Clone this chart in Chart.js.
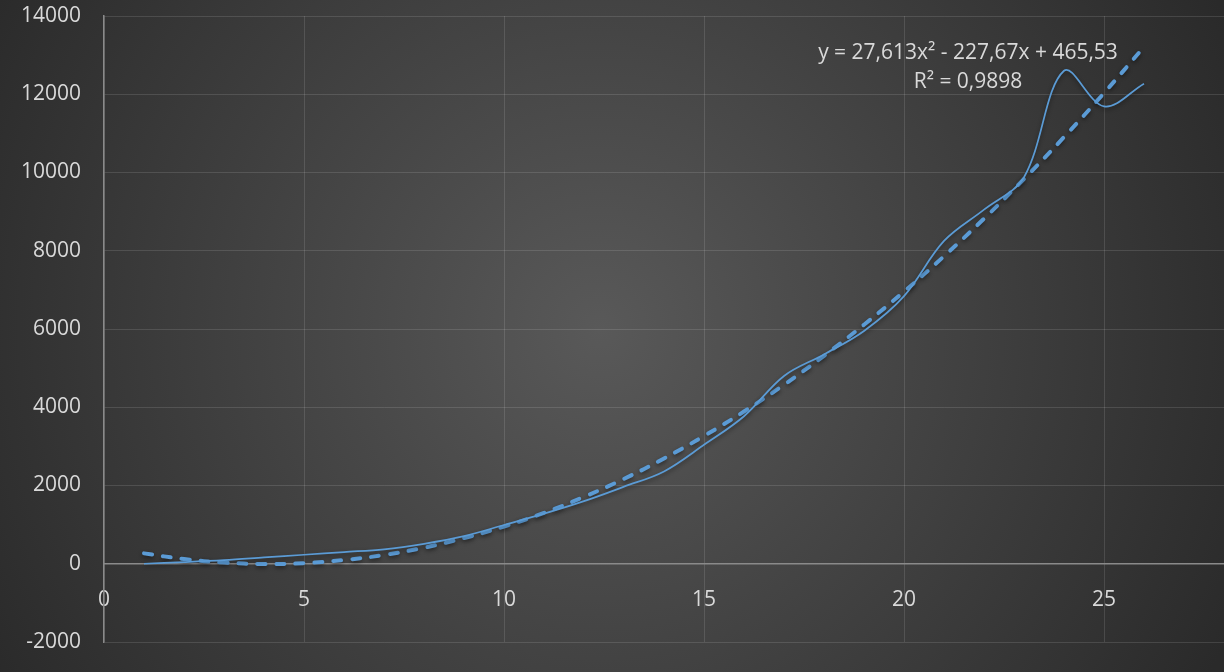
<!DOCTYPE html>
<html>
<head>
<meta charset="utf-8">
<script src="https://cdn.jsdelivr.net/npm/chart.js@4.4.1/dist/chart.umd.min.js"></script>
<style>
    html, body { margin: 0; padding: 0; background: #2a2a2a; }
    #wrap { width: 1224px; height: 672px; }
</style>
</head>
<body>
<div id="wrap"><canvas id="trendChart" width="1224" height="672"></canvas></div>
<script>
// Valores
const xValues = [1, 2, 3, 4, 5, 6, 7, 8, 9, 10, 11, 12, 13, 14, 15, 16, 17, 18, 19, 20, 21, 22, 23, 24, 25, 26];
const seriesValues = [0, 40, 90, 160, 230, 300, 370, 510, 705, 990, 1280, 1600, 1970, 2360, 3040, 3770, 4800, 5350, 5950, 6840, 8250, 9050, 9880, 12600, 11690, 12270];
const trendValues = [265, 120, 30, -5, 15, 95, 225, 410, 655, 950, 1300, 1710, 2170, 2690, 3265, 3890, 4575, 5315, 6110, 6955, 7860, 8820, 9835, 10905, 12030, 13210];
const xTicks = [0, 5, 10, 15, 20, 25];
const yTicks = [-2000, 0, 2000, 4000, 6000, 8000, 10000, 12000, 14000];
const trendLabel = ["y = 27,613x² - 227,67x + 465,53", "R² = 0,9898"];

const lineColor = "#5b9bd5";
const textColor = "#d9d9d9";
const gridColor = "rgba(255, 255, 255, 0.12)";
const axisColor = "#8a8a8a";

Chart.defaults.font.family = "'Open Sans', sans-serif";
Chart.defaults.font.size = 21;
Chart.defaults.color = textColor;

// Fondo con degradado radial oscuro
const backgroundPlugin = {
    id: "darkBackground",
    beforeDraw(chart) {
        const { ctx, width, height } = chart;
        const g = ctx.createRadialGradient(600, 330, 0, 600, 330, 700);
        g.addColorStop(0, "#595959");
        g.addColorStop(1, "#2a2a2a");
        ctx.save();
        ctx.fillStyle = g;
        ctx.fillRect(0, 0, width, height);
        ctx.restore();
    },
};

// Sombra suave de las líneas
const shadowPlugin = {
    id: "lineShadow",
    beforeDatasetsDraw(chart) {
        const ctx = chart.ctx;
        ctx.save();
        ctx.shadowColor = "rgba(0, 0, 0, 0.45)";
        ctx.shadowBlur = 4;
        ctx.shadowOffsetY = 2;
    },
    afterDatasetsDraw(chart) {
        chart.ctx.restore();
    },
};

// Etiqueta de la línea de tendencia
const trendLabelPlugin = {
    id: "trendLabel",
    afterDraw(chart) {
        const ctx = chart.ctx;
        ctx.save();
        ctx.fillStyle = textColor;
        ctx.font = "21px 'Open Sans', sans-serif";
        ctx.textAlign = "center";
        ctx.textBaseline = "middle";
        ctx.fillText(trendLabel[0], 968, 53);
        ctx.fillText(trendLabel[1], 968, 82);
        ctx.restore();
    },
};

const ctx = document.getElementById("trendChart").getContext("2d");
new Chart(ctx, {
    type: "line",
    data: {
        datasets: [
            {
                label: "Serie",
                data: xValues.map((x, i) => ({ x: x, y: seriesValues[i] })),
                borderColor: lineColor,
                borderWidth: 1.75,
                pointRadius: 0,
                tension: 0.35,
                fill: false,
            },
            {
                label: "Tendencia",
                data: xValues.map((x, i) => ({ x: x, y: trendValues[i] })),
                borderColor: lineColor,
                borderWidth: 4,
                borderDash: [8, 11],
                borderCapStyle: "round",
                pointRadius: 0,
                tension: 0.4,
                fill: false,
            },
        ],
    },
    options: {
        responsive: false,
        animation: false,
        layout: {
            padding: { top: 16, bottom: 30, left: 0, right: 0 },
        },
        plugins: {
            legend: { display: false },
            tooltip: { enabled: false },
        },
        scales: {
            x: {
                type: "linear",
                position: { y: 0 },
                min: 0,
                max: 28,
                afterBuildTicks(scale) {
                    scale.ticks = xTicks.map((v) => ({ value: v }));
                },
                afterFit(scale) {
                    scale.height = 0;
                    scale.paddingLeft = 0;
                    scale.paddingRight = 0;
                },
                ticks: {
                    padding: 24,
                    color: textColor,
                    callback: (v) => String(v),
                },
                grid: {
                    color: gridColor,
                    drawTicks: false,
                },
                border: {
                    color: axisColor,
                    width: 1.5,
                },
            },
            y: {
                type: "linear",
                min: -2000,
                max: 14000,
                afterBuildTicks(scale) {
                    scale.ticks = yTicks.map((v) => ({ value: v }));
                },
                afterFit(scale) {
                    scale.width = 104;
                    scale.paddingTop = 0;
                    scale.paddingBottom = 0;
                },
                ticks: {
                    padding: 23,
                    color: textColor,
                    callback: (v) => String(v),
                },
                grid: {
                    color: gridColor,
                    drawTicks: false,
                },
                border: {
                    color: axisColor,
                    width: 1.5,
                },
            },
        },
    },
    plugins: [backgroundPlugin, shadowPlugin, trendLabelPlugin],
});
</script>
</body>
</html>
